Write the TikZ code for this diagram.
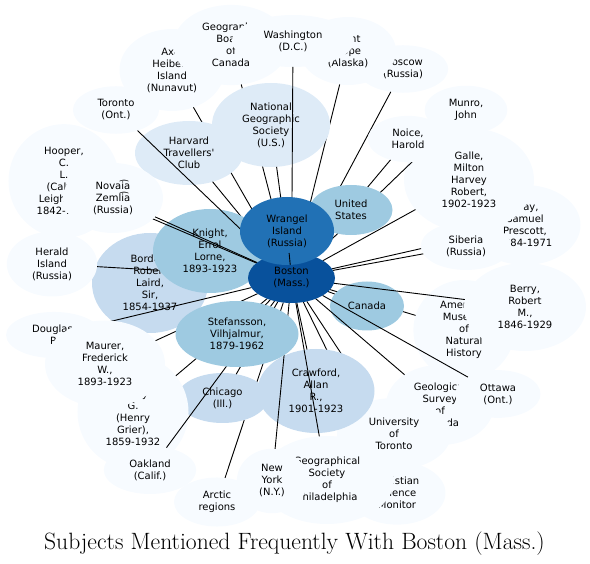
\documentclass[tikz,border=0pt]{standalone}
\usepackage{fontspec}
\newfontfamily\nodefont{DejaVu Sans}
\usetikzlibrary{shapes.geometric}
\definecolor{cA}{HTML}{F7FBFF}
\definecolor{cB}{HTML}{DEEBF7}
\definecolor{cC}{HTML}{C6DBEF}
\definecolor{cD}{HTML}{9ECAE1}
\definecolor{cE}{HTML}{2171B5}
\definecolor{cF}{HTML}{08519C}
\begin{document}
\begin{tikzpicture}[x=1pt,y=-1pt,
  subj/.style={ellipse, fill=cA, inner xsep=12pt, inner ysep=6.5pt, outer sep=0pt, align=center,
    font=\nodefont\fontsize{10}{12}\selectfont},
  sized/.style n args={2}{inner sep=0pt, minimum width=#1pt, minimum height=#2pt},
  link/.style={draw=black, line width=0.9pt}]
\useasboundingbox (0,0) rectangle (590,564);
\node[subj, fill=none, sized={87}{50}] (boston) at (291.5,278) {};
\node[subj] (axel) at (172,70) {Axel\\Heiberg\\Island\\(Nunavut)};
\draw[link] (boston) -- (axel);
\node[subj] (geoboard) at (231,45) {Geographic\\Board\\of\\Canada};
\draw[link] (boston) -- (geoboard);
\node[subj] (moscow) at (403,69) {Moscow\\(Russia)};
\draw[link] (boston) -- (moscow);
\node[subj, sized={96}{68}] (pointhope) at (348,51) {Point\\Hope\\(Alaska)};
\draw[link] (boston) -- (pointhope);
\node[subj, fill=cB, sized={118}{84}] (natgeo) at (271,125) {National\\Geographic\\Society\\(U.S.)};
\draw[link] (boston) -- (natgeo);
\node[subj, sized={122}{52}] (washington) at (293,41) {Washington\\(D.C.)};
\draw[link] (boston) -- (washington);
\node[subj, fill=cB, sized={108}{64}] (harvard) at (189,153) {Harvard\\Travellers'\\Club};
\draw[link] (boston) -- (harvard);
\node[subj] (gray) at (525,225) {Gray,\\Samuel\\Prescott,\\1884-1971};
\draw[link] (boston) -- (gray);
\node[subj, sized={130}{104}] (galle) at (469,180) {Galle,\\Milton\\Harvey\\Robert,\\1902-1923};
\draw[link] (boston) -- (galle);
\node[subj] (munro) at (466,110) {Munro,\\John};
\draw[link] (boston) -- (munro);
\node[subj] (noice) at (408,139) {Noice,\\Harold};
\draw[link] (boston) -- (noice);
\node[subj, fill=cD, sized={83}{50}] (us) at (351,210) {United\\States};
\draw[link] (boston) -- (us);
\node[subj] (siberia) at (466,246) {Siberia\\(Russia)};
\draw[link] (boston) -- (siberia);
\node[subj] (ammuseum) at (464,330) {American\\Museum\\of\\Natural\\History};
\draw[link] (boston) -- (ammuseum);
\node[subj, fill=cD, sized={74}{49}] (canada) at (367,306) {Canada};
\draw[link] (boston) -- (canada);
\node[subj, sized={122}{88}] (berry) at (525,307) {Berry,\\Robert\\M.,\\1846-1929};
\draw[link] (boston) -- (berry);
\node[subj] (geosurvey) at (440,405) {Geological\\Survey\\of\\Canada};
\draw[link] (boston) -- (geosurvey);
\node[subj] (ottawa) at (498,394) {Ottawa\\(Ont.)};
\draw[link] (boston) -- (ottawa);
\node[subj] (csm) at (397,493) {Christian\\Science\\Monitor};
\draw[link] (boston) -- (csm);
\node[subj, sized={114}{72}] (uoft) at (394,434) {University\\of\\Toronto};
\draw[link] (boston) -- (uoft);
\node[subj, fill=cC, sized={117}{84}] (crawford) at (316,391) {Crawford,\\Allan\\R.,\\1901-1923};
\draw[link] (boston) -- (crawford);
\node[subj, sized={134}{88}] (philly) at (327,480) {Geographical\\Society\\of\\Philadelphia};
\draw[link] (boston) -- (philly);
\node[subj] (ny) at (272,481) {New\\York\\(N.Y.)};
\draw[link] (boston) -- (ny);
\node[subj] (arctic) at (217,502) {Arctic\\regions};
\draw[link] (boston) -- (arctic);
\node[subj, fill=cC, sized={91}{50}] (chicago) at (222.5,398) {Chicago\\(Ill.)};
\draw[link] (boston) -- (chicago);
\node[subj] (bryant) at (133,412) {Bryant,\\Henry\\G.\\(Henry\\Grier),\\1859-1932};
\draw[link] (boston) -- (bryant);
\node[subj] (oakland) at (150,470) {Oakland\\(Calif.)};
\draw[link] (boston) -- (oakland);
\node[subj, fill=cC, sized={116}{100}] (borden) at (150,283) {Borden,\\Robert\\Laird,\\Sir,\\1854-1937};
\draw[link] (boston) -- (borden);
\node[subj] (herald) at (52,264) {Herald\\Island\\(Russia)};
\draw[link] (boston) -- (herald);
\node[subj] (douglas) at (54,335) {Douglas,\\P.};
\draw[link] (boston) -- (douglas);
\node[subj, sized={120}{87}] (maurer) at (105,364) {Maurer,\\Frederick\\W.,\\1893-1923};
\draw[link] (boston) -- (maurer);
\node[subj, fill=cD, sized={123}{66}] (stefansson) at (237,334) {Stefansson,\\Vilhjalmur,\\1879-1962};
\draw[link] (boston) -- (stefansson);
\node[subj, fill=cD, sized={114}{84}] (knight) at (210,251) {Knight,\\Errol\\Lorne,\\1893-1923};
\draw[link] (boston) -- (knight);
\node[subj] (toronto) at (116,110) {Toronto\\(Ont.)};
\draw[link] (boston) -- (toronto);
\node[subj] (hooper) at (64,181) {Hooper,\\C.\\L.\\(Calvin\\Leighton),\\1842-1900};
\draw[link] (boston) -- (hooper);
\node[subj, sized={100}{70}] (novaia) at (113,198) {Novai͡a\\Zemli͡a\\(Russia)};
\draw[link] (boston) -- (novaia);
\node[subj, fill=cF, sized={87}{50}] (boston) at (291.5,278) {Boston\\(Mass.)};
\node[subj, fill=cE, sized={94}{68}] (wrangel) at (287,231) {Wrangel\\Island\\(Russia)};
\draw[link] (boston) -- (wrangel);
\node[anchor=base, font=\fontsize{23.6}{28}\selectfont] (title) at (294.5,549) {Subjects Mentioned Frequently With Boston (Mass.)};
\end{tikzpicture}
\end{document}
